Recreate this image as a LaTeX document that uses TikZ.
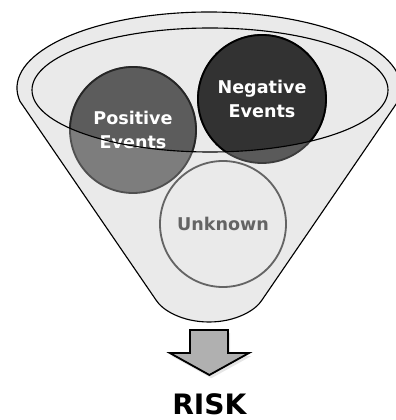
\documentclass[tikz,border=0pt]{standalone}
\usepackage{fontspec}
\setmainfont{DejaVu Sans}
\usetikzlibrary{shadows}
\definecolor{funnel}{RGB}{234,234,234}
\definecolor{posfill}{RGB}{125,125,125}
\definecolor{posdeep}{RGB}{92,92,92}
\definecolor{posline}{RGB}{80,80,80}
\definecolor{negfill}{RGB}{90,90,90}
\definecolor{negdeep}{RGB}{50,50,50}
\definecolor{negline}{RGB}{60,60,60}
\definecolor{unkline}{RGB}{100,100,100}
\definecolor{arrowgray}{RGB}{176,176,176}
\tikzset{
  bubble/.style={circle,minimum size=#1,inner sep=0pt,line width=1.3pt},
  bubble/.default=31.5mm,
  caption/.style={font=\bfseries\fontsize{12.5}{17}\selectfont,align=center,text=#1},
  caption/.default=white,
  rimline/.style={line width=0.8pt,draw=black},
}

\begin{document}
\begin{tikzpicture}
  \useasboundingbox (0,0) rectangle (9.9,10.5);
  % funnel body with its rim
  \filldraw[rimline,fill=funnel] (0.498,7.97) arc[start angle=190,end angle=-10,x radius=4.8,y radius=1.9]
    -- (6.55,3.0) .. controls (6.4,2.75) and (5.9,2.45) .. (5.225,2.45)
    .. controls (4.55,2.45) and (4.05,2.75) .. (3.9,3.0) -- cycle;
  % the three bubbles
  \node[bubble,fill=posfill,draw=posline] (pos) at (3.325,7.25) {};
  \node[bubble=32mm,fill=negfill,draw=negline] (neg) at (6.55,8.025) {};
  \node[bubble,fill=funnel,draw=unkline] (unk) at (5.575,4.9) {};
  \begin{scope}
    \clip (5.25,8.25) ellipse[x radius=4.45,y radius=1.55];
    \node[bubble,fill=posdeep,draw=black!85] at (pos) {};
    \node[bubble=32mm,fill=negdeep,draw=black] at (neg) {};
  \end{scope}
  \node[caption] (postext) at (pos) {Positive\\Events};
  \node[caption] (negtext) at (neg) {Negative\\Events};
  \node[caption=unkline] (unktext) at (unk) {Unknown};
  \draw[rimline] (5.25,8.25) ellipse[x radius=4.45,y radius=1.55];
  % down arrow and result
  \filldraw[fill=arrowgray,line width=1.3pt,drop shadow={opacity=0.2,shadow xshift=0.5mm,shadow yshift=-0.8mm}]
    (4.75,2.25) -- (5.7,2.25) -- (5.7,1.675) -- (6.225,1.675) -- (5.235,1.125)
    -- (4.245,1.675) -- (4.75,1.675) -- cycle;
  \node[font=\bfseries\fontsize{20}{24}\selectfont] (risk) at (5.235,0.4) {RISK};
\end{tikzpicture}
\end{document}
